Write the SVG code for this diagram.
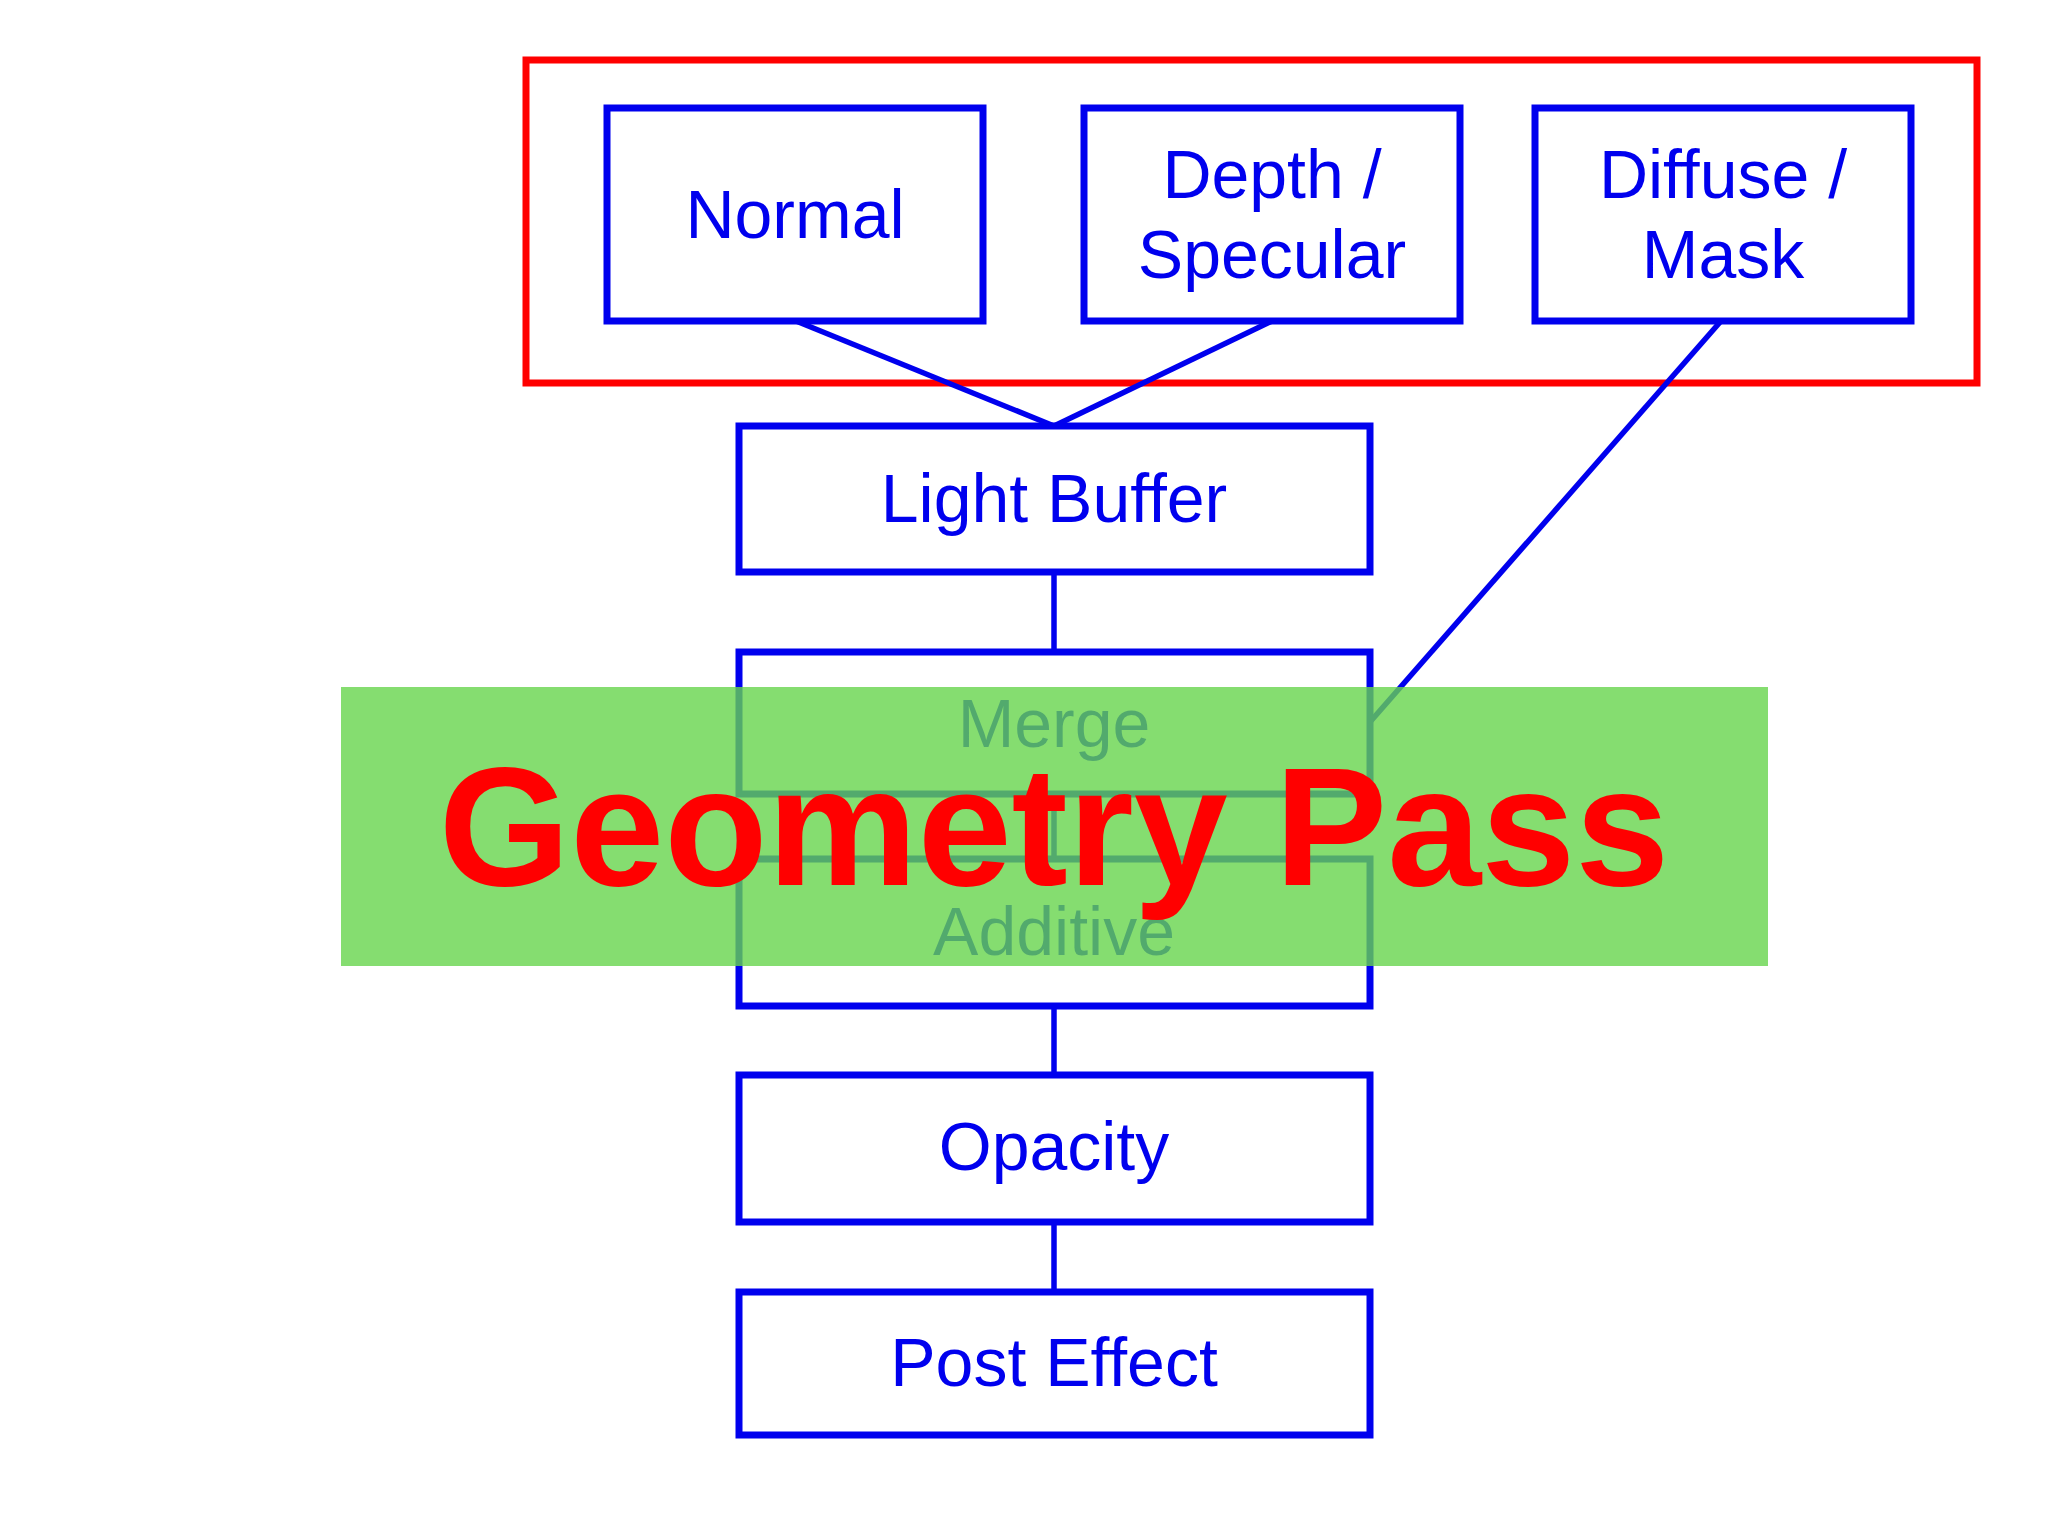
<svg xmlns="http://www.w3.org/2000/svg" width="2048" height="1536" viewBox="0 0 2048 1536">
<style>
.b{fill:none;stroke:#0000ee;stroke-width:7}
.t{font-family:"Liberation Sans",Arial,sans-serif;font-size:68px;fill:#0000ee;text-anchor:middle}
.c{stroke:#0000ee;stroke-width:5.5;fill:none}
</style>
<rect width="2048" height="1536" fill="#fff"/>
<rect x="526" y="60" width="1451" height="323" fill="none" stroke="#ff0000" stroke-width="7"/>
<g id="connectors">
<line class="c" x1="796" y1="321" x2="1054" y2="426"/>
<line class="c" x1="1272" y1="321" x2="1054" y2="426"/>
<line class="c" x1="1721" y1="321" x2="1370" y2="722"/>
<line class="c" x1="1054" y1="572" x2="1054" y2="652"/>
<line class="c" x1="1054" y1="794" x2="1054" y2="859"/>
<line class="c" x1="1054" y1="1006" x2="1054" y2="1075"/>
<line class="c" x1="1054" y1="1222" x2="1054" y2="1292"/>
</g>
<g id="normal"><rect class="b" x="607" y="108" width="376" height="213"/><text class="t" x="795" y="238">Normal</text></g>
<g id="depth"><rect class="b" x="1084" y="108" width="376" height="213"/><text class="t" x="1272" y="198">Depth /</text><text class="t" x="1272" y="278">Specular</text></g>
<g id="diffuse"><rect class="b" x="1535" y="108" width="376" height="213"/><text class="t" x="1723" y="198">Diffuse /</text><text class="t" x="1723" y="278">Mask</text></g>
<g id="light"><rect class="b" x="739" y="426" width="631" height="146"/><text class="t" x="1054" y="522">Light Buffer</text></g>
<g id="merge"><rect class="b" x="739" y="652" width="631" height="142"/><text class="t" x="1054" y="747">Merge</text></g>
<g id="additive"><rect class="b" x="739" y="859" width="631" height="147"/><text class="t" x="1054" y="955">Additive</text></g>
<g id="opacity"><rect class="b" x="739" y="1075" width="631" height="147"/><text class="t" x="1054" y="1170">Opacity</text></g>
<g id="post"><rect class="b" x="739" y="1292" width="631" height="143"/><text class="t" x="1054" y="1386">Post Effect</text></g>
<g id="banner">
<rect x="341" y="687" width="1427" height="279" fill="#66d44c" opacity="0.8"/>
<text x="1054" y="885" font-family="Liberation Sans,Arial,sans-serif" font-weight="bold" font-size="169" fill="#ff0000" text-anchor="middle">Geometry Pass</text>
</g>
</svg>
